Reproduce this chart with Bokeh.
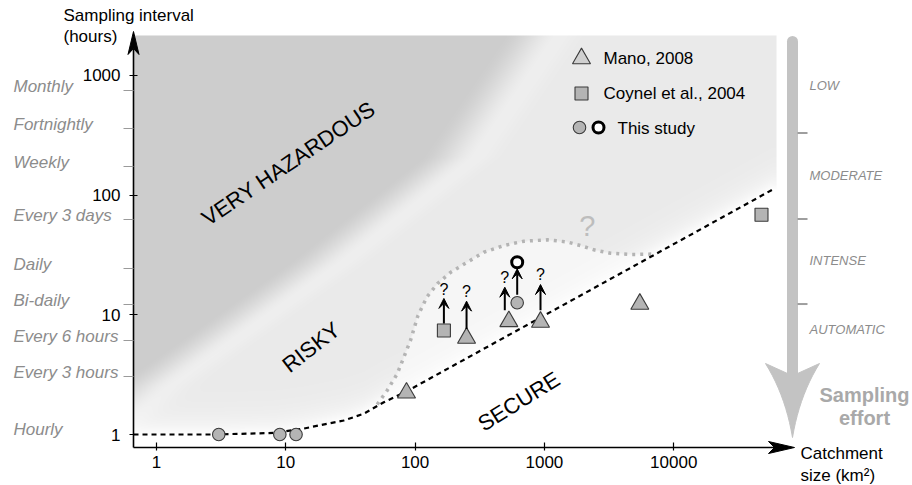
import numpy as np
from bokeh.plotting import figure
from bokeh.models import (Range1d, FixedTicker, NumeralTickFormatter, Label,
                          Arrow, VeeHead, ColumnDataSource)
from bokeh.core.properties import value
from bokeh.embed import file_html
from bokeh.resources import INLINE

# ---------------- data ----------------
x_ticks = [1, 10, 100, 1000, 10000]
y_ticks = [1, 10, 100, 1000]

interval_names = ["Monthly", "Fortnightly", "Weekly", "Every 3 days", "Daily",
                  "Bi-daily", "Every 6 hours", "Every 3 hours", "Hourly"]
interval_hours = [748, 360, 173, 63, 24.4, 12.2, 6.1, 3.05, 1.0]

effort_names = ["LOW", "MODERATE", "INTENSE", "AUTOMATIC"]
effort_label_hours = [824, 146, 28.4, 7.5]
effort_bound_hours = [330, 63, 12.3]

mano_x = [85.8, 250, 531, 933, 5470]
mano_y = [2.23, 6.4, 8.8, 8.7, 12.3]
coynel_x = [167, 47750]
coynel_y = [7.4, 68.5]
study_x = [3.03, 8.99, 12.0, 616]
study_y = [1.0, 1.0, 1.0, 12.6]
study_max_x = [616]
study_max_y = [27.5]

unc_x = [167, 250, 494, 933]
unc_from = [8.46, 7.62, 10.9, 10.9]
unc_to = [13.7, 13.0, 17.0, 17.9]
unc_mark = [16.3, 15.6, 20.6, 21.6]

study_arrow_x = [616]
study_arrow_from = [14.7]
study_arrow_to = [24.2]

secure_x = [0.664, 2.76, 8.03, 13.7, 28.1, 40.1, 57.3, 85.8, 57800]
secure_y = [1.0, 1.0, 1.03, 1.12, 1.31, 1.49, 1.86, 2.29, 110.7]

risky_x = [50.9, 60.8, 72.7, 81.8, 92.1, 105.3, 124.0, 149.0, 187.8, 252.9,
           340.0, 485.3, 693, 1051, 1501, 1902, 2411, 3245, 4635, 7230]
risky_y = [1.78, 2.33, 3.21, 4.42, 6.10, 9.87, 14.2, 18.2, 22.6, 27.5,
           33.3, 37.9, 41.2, 42.3, 40.6, 37.9, 34.9, 32.7, 31.9, 32.2]

zone_names = ["VERY HAZARDOUS", "RISKY", "SECURE"]
zone_x = [10.5, 15.7, 634]
zone_y = [184, 5.36, 1.89]
zone_angle_deg = [34, 38, 32]

unknown_x = [2143]
unknown_y = [55.7]

legend_names = ["Mano, 2008", "Coynel et al., 2004", "This study"]

# ---------------- layout calibration (canvas pixels) ----------------
CW, CH = 912, 485
AX_L, AX_B = 133, 447          # axis origin
X1PX, XDEC = 156.0, 129.3      # pixel of x=1, pixels per decade
Y1PX, YDEC = 434.0, 119.7      # pixel of y=1, pixels per decade


def xpx(px):
    return 10 ** ((px - X1PX) / XDEC)


def ypx(py):
    return 10 ** ((Y1PX - py) / YDEC)


FONT = "Liberation Sans"

p = figure(width=CW, height=CH, x_axis_type="log", y_axis_type="log",
           x_range=Range1d(xpx(0), xpx(CW)), y_range=Range1d(ypx(CH), ypx(0)),
           output_backend="svg", toolbar_location=None, title=None,
           min_border=0, min_border_left=0, min_border_right=0,
           min_border_top=0, min_border_bottom=0)
p.outline_line_color = None
p.xgrid.visible = False
p.ygrid.visible = False
p.background_fill_color = "white"
p.border_fill_color = "white"

# ---------------- background shading ----------------
IMG_R, IMG_T = 776, 35
W, H = IMG_R - AX_L, AX_B - IMG_T
pxs = AX_L + np.arange(W) + 0.5
pys = AX_B - (np.arange(H) + 0.5)
PX, PY = np.meshgrid(pxs, pys)
LX = (PX - X1PX) / XDEC
yd = Y1PX - YDEC * np.interp(LX, np.log10(secure_x), np.log10(secure_y))
lr = np.log10(risky_x)
yu = Y1PX - YDEC * np.interp(LX, lr, np.log10(risky_y))
inside = (LX >= lr[0]) & (LX <= lr[-1]) & (PY > yu)
sx = np.interp(PY, [35, 157, 262, 385, 447], [528, 445, 312, 140, 70])
t = np.clip((PX - sx) / 55 + 0.5, 0, 1)
s = t * t * (3 - 2 * t)
hl = 5 * np.exp(-((PX - sx - 32) / 18.0) ** 2)
base = 205 + 29 * s + hl
base = np.where(inside, 246, base)
d = yd - PY
fade = np.exp(-np.clip(d, 0, None) / 14.0)
val = base + (255 - base) * fade
val = np.where(d < 0, 255, val)
v = np.clip(val, 0, 255).astype(np.uint8)
img = np.empty((H, W), dtype=np.uint32)
view = img.view(dtype=np.uint8).reshape((H, W, 4))
view[:, :, 0] = v
view[:, :, 1] = v
view[:, :, 2] = v
view[:, :, 3] = 255
p.image_rgba(image=[img], x=xpx(AX_L), y=ypx(AX_B),
             dw=xpx(IMG_R) - xpx(AX_L), dh=ypx(IMG_T) - ypx(AX_B))

# ---------------- boundary curves ----------------
p.line(risky_x, risky_y, line_color="#b4b4b4", line_width=3.5, line_dash="3 5")
p.line(secure_x, secure_y, line_color="black", line_width=2.2, line_dash="5 4")

# ---------------- zone labels ----------------
p.text(x=zone_x, y=zone_y, text=zone_names, angle=[np.radians(a) for a in zone_angle_deg],
       text_font=value(FONT), text_font_size="22px", text_color="black",
       text_align="center", text_baseline="middle")
p.text(x=unknown_x, y=unknown_y, text=["?"], text_font=value(FONT),
       text_font_size="29px", text_color="#bdbdbd", text_align="center",
       text_baseline="middle")

# ---------------- arrows on uncertain points ----------------
arr_src = ColumnDataSource(dict(x=unc_x + study_arrow_x,
                                y0=unc_from + study_arrow_from,
                                y1=unc_to + study_arrow_to))
p.add_layout(Arrow(x_start="x", y_start="y0", x_end="x", y_end="y1", source=arr_src,
                   line_width=2, line_color="black",
                   end=VeeHead(size=10, fill_color="black", line_color="black")))
p.text(x=unc_x, y=unc_mark, text=["?" for _ in unc_x], text_font=value(FONT),
       text_font_size="16px", text_color="black", text_align="center",
       text_baseline="middle")

# ---------------- data markers ----------------
MFILL, MLINE = "#b4b4b4", "#3a3a3a"
p.scatter(mano_x, mano_y, marker="triangle", size=18, fill_color=MFILL,
          line_color=MLINE, line_width=1.1)
p.scatter(coynel_x, coynel_y, marker="square", size=13, fill_color=MFILL,
          line_color=MLINE, line_width=1.1)
p.scatter(study_x, study_y, marker="circle", size=12.5, fill_color=MFILL,
          line_color=MLINE, line_width=1.1)
p.scatter(study_max_x, study_max_y, marker="circle", size=11, fill_color="white",
          line_color="black", line_width=3)

# ---------------- legend ----------------
p.scatter([xpx(581)], [ypx(58)], marker="triangle", size=18, fill_color="#d0d0d0",
          line_color=MLINE, line_width=1.1)
p.scatter([xpx(581)], [ypx(93)], marker="square", size=13, fill_color=MFILL,
          line_color=MLINE, line_width=1.1)
p.scatter([xpx(579)], [ypx(127)], marker="circle", size=12.5, fill_color=MFILL,
          line_color=MLINE, line_width=1.1)
p.scatter([xpx(598)], [ypx(127)], marker="circle", size=11, fill_color="white",
          line_color="black", line_width=3)
for name, lx_, ly_ in zip(legend_names, [603, 603, 617], [58, 93, 128]):
    p.add_layout(Label(x=xpx(lx_), y=ypx(ly_), text=name, text_font=FONT,
                       text_font_size="17px", text_color="black",
                       text_align="left", text_baseline="middle"))

# ---------------- sampling effort arrow ----------------
EFF_C = "#c3c3c3"
p.segment(x0=[xpx(792)], y0=[ypx(41)], x1=[xpx(792)], y1=[ypx(374)],
          line_color=EFF_C, line_width=11, line_cap="round")


def bez(p0, c, p1, n=12):
    tt = np.linspace(0, 1, n)
    bx = (1 - tt) ** 2 * p0[0] + 2 * (1 - tt) * tt * c[0] + tt ** 2 * p1[0]
    by = (1 - tt) ** 2 * p0[1] + 2 * (1 - tt) * tt * c[1] + tt ** 2 * p1[1]
    return list(bx), list(by)


lxs, lys = bez((765, 363), (785, 395), (792, 437))
rxs, rys = bez((792, 437), (799, 395), (819, 363))
hx = lxs + rxs[1:] + [797, 787]
hy = lys + rys[1:] + [373, 373]
p.patch([xpx(a) for a in hx], [ypx(b) for b in hy], fill_color=EFF_C, line_color=EFF_C)

p.segment(x0=[xpx(797)] * 3, y0=effort_bound_hours, x1=[xpx(807)] * 3,
          y1=effort_bound_hours, line_color="#9e9e9e", line_width=2)
for name, hv in zip(effort_names, effort_label_hours):
    p.add_layout(Label(x=xpx(809), y=hv, text=name, text_font=FONT,
                       text_font_size="13px", text_font_style="italic",
                       text_color="#8c8c8c", text_align="left", text_baseline="middle"))
for txt, yy in zip(["Sampling", "effort"], [394, 417]):
    p.add_layout(Label(x=xpx(864), y=ypx(yy), text=txt, text_font=FONT,
                       text_font_size="20px", text_font_style="bold",
                       text_color="#a9a9a9", text_align="center", text_baseline="middle"))

# ---------------- axes (library axes pinned at the origin) ----------------
p.xaxis.fixed_location = ypx(AX_B)
p.xaxis.ticker = FixedTicker(ticks=x_ticks)
p.xaxis.formatter = NumeralTickFormatter(format="0")
p.xaxis.axis_line_color = None
p.xaxis.major_tick_in = 5
p.xaxis.major_tick_out = 3
p.xaxis.major_tick_line_color = "black"
p.xaxis.major_tick_line_width = 1.2
p.xaxis.minor_tick_line_color = None
p.xaxis.major_label_text_font = FONT
p.xaxis.major_label_text_font_size = "17px"
p.xaxis.major_label_text_color = "black"
p.xaxis.major_label_standoff = 5

p.yaxis.fixed_location = xpx(AX_L)
p.yaxis.ticker = FixedTicker(ticks=y_ticks, minor_ticks=interval_hours[:-1])
p.yaxis.formatter = NumeralTickFormatter(format="0")
p.yaxis.axis_line_color = None
p.yaxis.major_tick_in = 4
p.yaxis.major_tick_out = 4
p.yaxis.major_tick_line_color = "black"
p.yaxis.major_tick_line_width = 1.2
p.yaxis.minor_tick_in = 0
p.yaxis.minor_tick_out = 10
p.yaxis.minor_tick_line_color = "#9a9a9a"
p.yaxis.minor_tick_line_width = 1
p.yaxis.major_label_text_font = FONT
p.yaxis.major_label_text_font_size = "17px"
p.yaxis.major_label_text_color = "black"
p.yaxis.major_label_standoff = 3

# axis lines with arrow heads
p.segment(x0=[xpx(AX_L), xpx(AX_L)], y0=[ypx(AX_B), ypx(AX_B)],
          x1=[xpx(778), xpx(AX_L)], y1=[ypx(AX_B), ypx(48)],
          line_color="black", line_width=1.6)
p.patch([xpx(a) for a in [794, 768, 774, 768]],
        [ypx(b) for b in [AX_B, AX_B - 6, AX_B, AX_B + 6]],
        fill_color="black", line_color="black", line_width=1)
p.patch([xpx(a) for a in [AX_L, AX_L - 5.5, AX_L, AX_L + 5.5]],
        [ypx(b) for b in [31, 54, 48, 54]],
        fill_color="black", line_color="black", line_width=1)

# interval labels on the left
for name, hv in zip(interval_names, interval_hours):
    p.add_layout(Label(x=xpx(13), y=hv, y_offset=4 if hv > 1 else 5, text=name,
                       text_font=FONT, text_font_size="17px", text_font_style="italic",
                       text_color="#8c8c8c", text_align="left", text_baseline="middle"))

# axis titles
for txt, yy in zip(["Sampling interval", "(hours)"], [15, 36]):
    p.add_layout(Label(x=xpx(63), y=ypx(yy), text=txt, text_font=FONT,
                       text_font_size="17px", text_color="black",
                       text_align="left", text_baseline="middle"))
for txt, yy in zip(["Catchment", "size (km²)"], [453, 475]):
    p.add_layout(Label(x=xpx(800), y=ypx(yy), text=txt, text_font=FONT,
                       text_font_size="17px", text_color="black",
                       text_align="left", text_baseline="middle"))

open("out.html", "w").write(file_html(p, INLINE))
